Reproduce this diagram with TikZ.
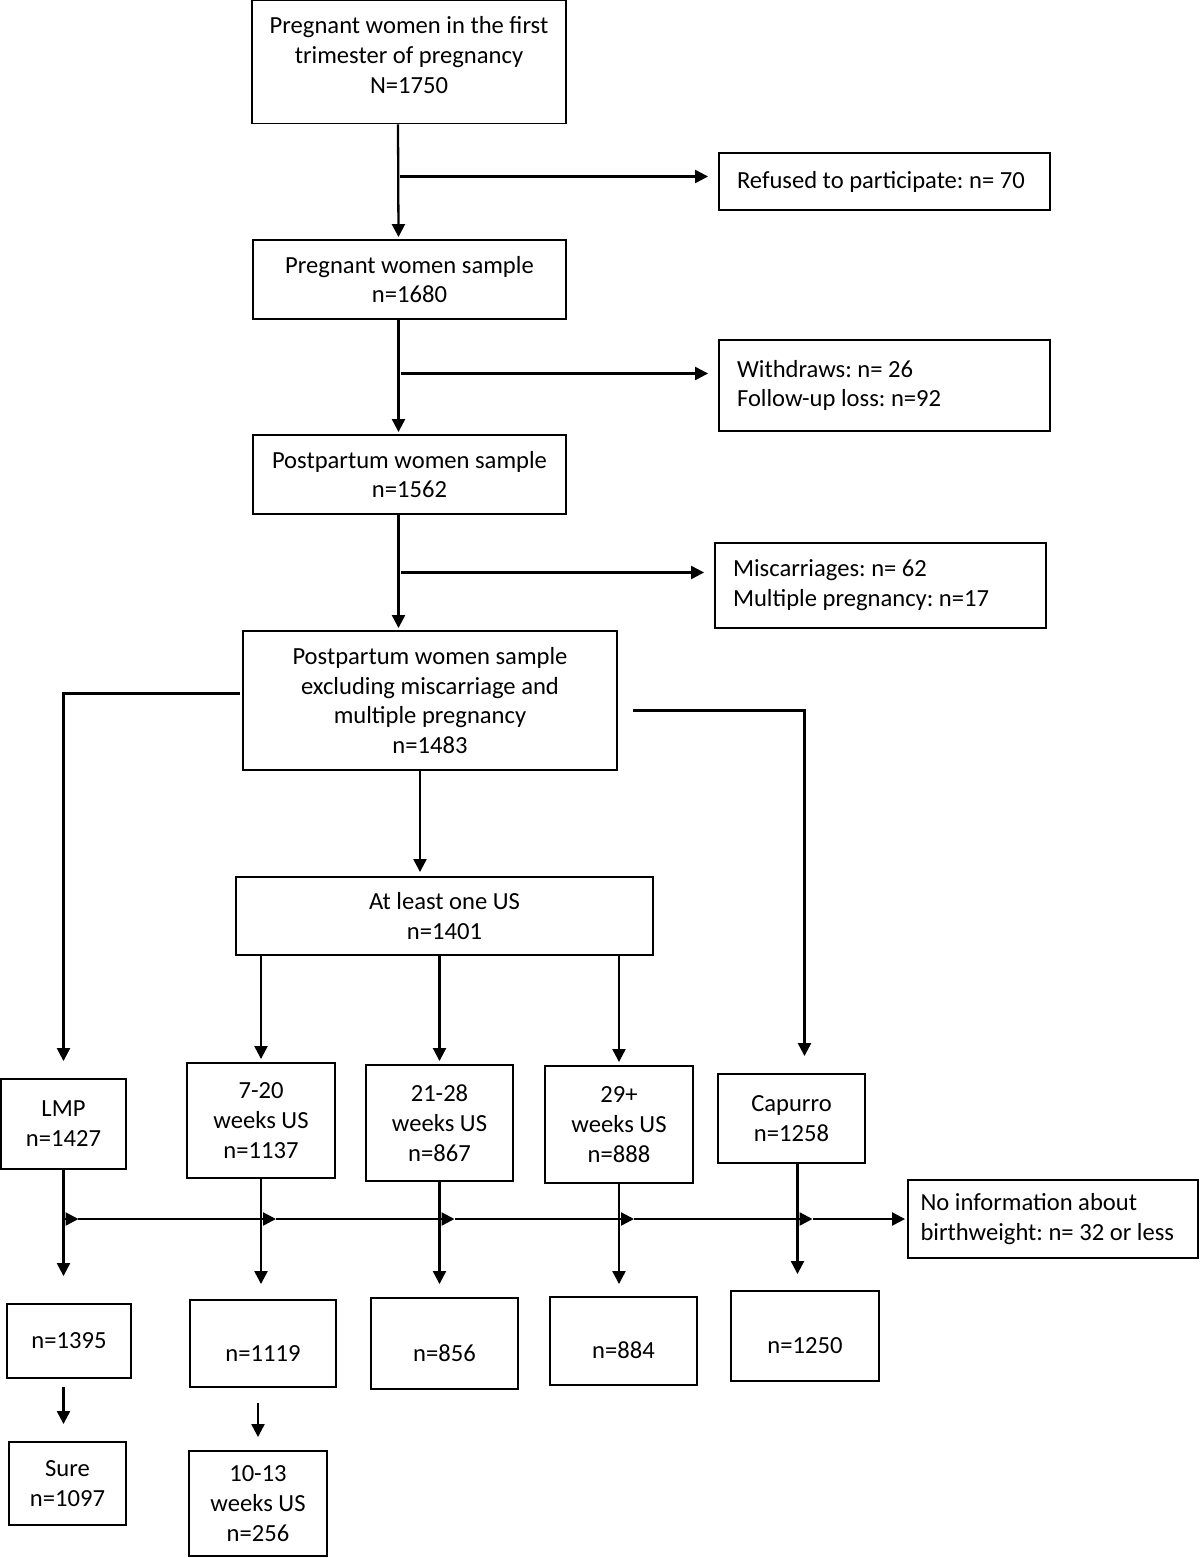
\documentclass[tikz,border=0pt]{standalone}
\usepackage{fontspec}
\setmainfont{Carlito}
\frenchspacing
\usetikzlibrary{positioning, arrows.meta}
\tikzset{
		flow box/.style={
			rectangle,
			draw=black,
			line width=1.1pt,
			align=center,
			inner sep=0pt,
			font=\fontsize{14}{17}\selectfont
		},
		side box/.style={
			flow box,
			align=flush left,
			inner xsep=0.36cm
		},
		low text/.style={text height=20pt, text depth=0pt},
		high text/.style={text depth=8pt},
		arrow/.style={
			line width=1.3pt,
			-{Triangle[length=0.26cm, width=0.26cm]}
		}
	}
\begin{document}
\begin{tikzpicture}[x=0.02cm, y=-0.02cm]
		\useasboundingbox (0,0) rectangle (1200,1558);
		% main column
		\node[flow box, high text, minimum width=6.28cm, minimum height=2.46cm] (first) at (409,62) {Pregnant women in the first\\ trimester of pregnancy\\ N=1750};
		\node[flow box, minimum width=6.26cm, minimum height=1.58cm] (sample) at (409.5,279.5) {Pregnant women sample\\ n=1680};
		\node[flow box, minimum width=6.26cm, minimum height=1.58cm] (postpartum) at (409.5,474.5) {Postpartum women sample\\ n=1562};
		\node[flow box, minimum width=7.48cm, minimum height=2.78cm] (excluded) at (430,700.5) {Postpartum women sample\\ excluding miscarriage and\\ multiple pregnancy\\ n=1483};
		\node[flow box, minimum width=8.34cm, minimum height=1.56cm] (oneUS) at (444.5,916) {At least one US\\ n=1401};
		% losses
		\node[side box, text width=5.9cm, minimum height=1.14cm] (refused) at (884.5,181.5) {Refused to participate: n= 70};
		\node[side box, text width=5.9cm, minimum height=1.82cm] (withdraws) at (884.5,385.5) {Withdraws: n= 26\\ Follow-up loss: n=92};
		\node[side box, text width=5.9cm, minimum height=1.70cm] (miscarriages) at (880.5,585.5) {Miscarriages: n= 62\\ Multiple pregnancy: n=17};
		% dating methods
		\node[flow box, minimum width=2.5cm, minimum height=1.8cm] (lmp) at (63.5,1124) {LMP\\ n=1427};
		\node[flow box, minimum width=2.96cm, minimum height=2.3cm] (us720) at (261,1120.5) {7-20\\ weeks US\\ n=1137};
		\node[flow box, minimum width=2.94cm, minimum height=2.32cm] (us2128) at (439.5,1123) {21-28\\ weeks US\\ n=867};
		\node[flow box, minimum width=2.96cm, minimum height=2.34cm] (us29) at (619,1124.5) {29+\\ weeks US\\ n=888};
		\node[flow box, minimum width=2.94cm, minimum height=1.78cm] (capurro) at (791.5,1118.5) {Capurro\\ n=1258};
		\node[side box, text width=5.3cm, inner xsep=0.25cm, minimum height=1.56cm] (noinfo) at (1053,1219) {No information about\\ birthweight: n= 32 or less};
		% with birthweight
		\node[flow box, minimum width=2.48cm, minimum height=1.48cm] (lmpbw) at (69,1341) {n=1395};
		\node[flow box, low text, minimum width=2.92cm, minimum height=1.74cm] (us720bw) at (263,1343.5) {n=1119};
		\node[flow box, low text, minimum width=2.94cm, minimum height=1.82cm] (us2128bw) at (444.5,1343.5) {n=856};
		\node[flow box, low text, minimum width=2.94cm, minimum height=1.76cm] (us29bw) at (623.5,1341) {n=884};
		\node[flow box, low text, minimum width=2.96cm, minimum height=1.8cm] (capurrobw) at (805,1336) {n=1250};
		\node[flow box, minimum width=2.34cm, minimum height=1.66cm] (sure) at (67.5,1483.5) {Sure\\ n=1097};
		\node[flow box, minimum width=2.76cm, minimum height=2.1cm] (us1013) at (258,1503.5) {10-13\\ weeks US\\ n=256};

		%arrows:
		\draw[arrow, shorten >=0.04cm] ([xshift=-0.22cm]first.south) -- ([xshift=-0.22cm]sample.north);
		\draw[arrow, shorten >=0.2cm] ([xshift=-0.18cm, yshift=0.1cm]first.south |- refused.west) -- ([yshift=0.1cm]refused.west);
		\draw[arrow, shorten >=0.04cm] ([xshift=-0.22cm]sample.south) -- ([xshift=-0.22cm]postpartum.north);
		\draw[arrow, shorten >=0.2cm] ([xshift=-0.18cm, yshift=0.24cm]sample.south |- withdraws.west) -- ([yshift=0.24cm]withdraws.west);
		\draw[arrow, shorten >=0.04cm] ([xshift=-0.22cm]postpartum.south) -- ([xshift=-0.22cm]postpartum.south |- excluded.north);
		\draw[arrow, shorten >=0.2cm] ([xshift=-0.18cm, yshift=0.26cm]postpartum.south |- miscarriages.west) -- ([yshift=0.26cm]miscarriages.west);
		\draw[arrow, shorten >=0.08cm] ([xshift=-0.2cm]excluded.south) -- ([xshift=-0.2cm]excluded.south |- oneUS.north);
		\draw[arrow, shorten >=0.34cm] ([xshift=-0.04cm, yshift=0.14cm]excluded.west) -| (lmp.north);
		\draw[arrow, shorten >=0.34cm] ([xshift=0.3cm, yshift=-0.2cm]excluded.east) -| ([xshift=0.26cm]capurro.north);
		\draw[arrow, shorten >=0.06cm] (us720.north |- oneUS.south) -- (us720.north);
		\draw[arrow, shorten >=0.06cm] (us2128.north |- oneUS.south) -- (us2128.north);
		\draw[arrow, shorten >=0.06cm] (us29.north |- oneUS.south) -- (us29.north);
		\draw[arrow, shorten >=0.54cm] (lmp.south) -- (lmp.south |- lmpbw.north);
		\draw[arrow, shorten >=0.3cm] (us720.south) -- (us720.south |- us720bw.north);
		\draw[arrow, shorten >=0.26cm] (us2128.south) -- (us2128.south |- us2128bw.north);
		\draw[arrow, shorten >=0.24cm] (us29.south) -- (us29.south |- us29bw.north);
		\draw[arrow, shorten >=0.32cm] ([xshift=0.12cm]capurro.south) -- ([xshift=0.12cm]capurro.south |- capurrobw.north);
		\draw[arrow, shorten <=0.16cm, shorten >=0.34cm] (lmp.south |- lmpbw.south) -- (lmp.south |- sure.north);
		\draw[arrow, shorten <=0.3cm, shorten >=0.26cm] (us1013.north |- us720bw.south) -- (us1013.north);
		% no birthweight
		\coordinate (c1) at ([xshift=0.3cm]lmp.south |- noinfo.west);
		\coordinate (c2) at ([xshift=0.3cm]us720.south |- noinfo.west);
		\coordinate (c3) at ([xshift=0.3cm]us2128.south |- noinfo.west);
		\coordinate (c4) at ([xshift=0.3cm]us29.south |- noinfo.west);
		\coordinate (c5) at ([xshift=0.42cm]capurro.south |- noinfo.west);
		\draw[arrow] (lmp.south |- noinfo.west) -- (c1);
		\draw[arrow] (c1) -- (c2);
		\draw[arrow] (c2) -- (c3);
		\draw[arrow] (c3) -- (c4);
		\draw[arrow] (c4) -- (c5);
		\draw[arrow, shorten >=0.04cm] (c5) -- (noinfo.west);

	\end{tikzpicture}
\end{document}
